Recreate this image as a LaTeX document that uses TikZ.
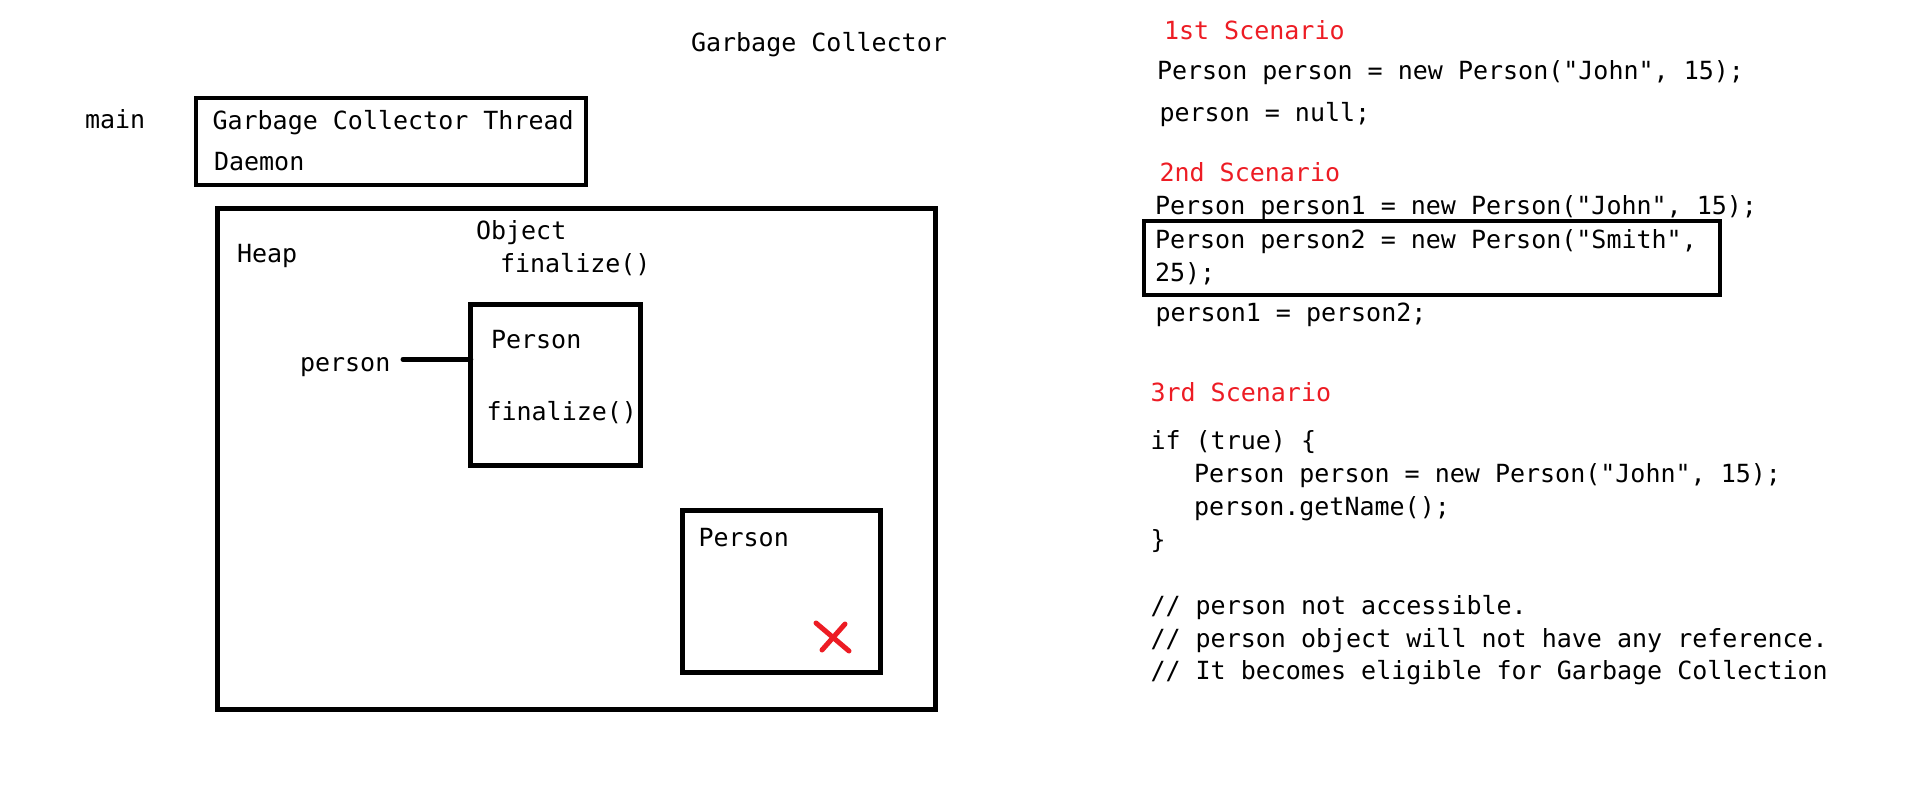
\documentclass[tikz,border=0pt]{standalone}
\usepackage{fontspec}
\setmonofont{DejaVu Sans Mono}
\definecolor{gcred}{RGB}{237,28,36}
\begin{document}
\begin{tikzpicture}[x=1pt,y=-1pt,
  txt/.style={anchor=base west,inner sep=0pt,outer sep=0pt,font=\ttfamily\fontsize{25}{30}\selectfont},
  redtxt/.style={txt,text=gcred},
  box/.style={draw=black,inner sep=0pt,outer sep=0pt},
  xmark/.style={draw=gcred,line width=5pt,line cap=round}]
\useasboundingbox[fill=white] (0,0) rectangle (1914,796);
% left part
\node[txt] (title) at (691,51) {Garbage Collector};
\node[txt] (main) at (85,128) {main};
\node[box,line width=4pt,minimum width=390.3pt,minimum height=86.5pt] (gct) at (390.65,141.25) {};
\node[txt] (gctt) at (212.5,129) {Garbage Collector Thread};
\node[txt] (daemon) at (214,170.5) {Daemon};
\node[box,line width=5pt,minimum width=718pt,minimum height=500.7pt] (heap) at (576.5,458.85) {};
\node[txt] (heapt) at (237,262.5) {Heap};
\node[txt] (obj) at (476,239) {Object};
\node[txt] (objfin) at (500,272.5) {finalize()};
\node[box,line width=5pt,minimum width=169.4pt,minimum height=161.6pt] (p1) at (555.5,385) {};
\node[txt] (p1t) at (491,348) {Person};
\node[txt] (p1f) at (486.5,420.5) {finalize()};
\node[txt] (pref) at (300,371) {person};
\coordinate (pl) at (403,359.3);
\draw[line width=5pt,line cap=round] (pl) -- (pl -| p1.west);
\node[box,line width=5pt,minimum width=197.8pt,minimum height=162pt] (p2) at (781.4,591) {};
\node[txt] (p2t) at (698.5,546.5) {Person};
\draw[xmark] (816,623) -- (849,651);
\draw[xmark] (845,624) -- (822,650);
% right part
\node[redtxt] (s1) at (1164,39.5) {1st Scenario};
\node[txt] (s1a) at (1157,79.5) {Person person = new Person("John", 15);};
\node[txt] (s1b) at (1159.5,121.5) {person = null;};
\node[redtxt] (s2) at (1159.5,181) {2nd Scenario};
\node[txt] (s2a) at (1155,214.5) {Person person1 = new Person("John", 15);};
\node[box,line width=4pt,minimum width=575.8pt,minimum height=73.4pt] (s2box) at (1431.6,258) {};
\node[txt] (s2b) at (1155,248.5) {Person person2 = new Person("Smith",};
\node[txt] (s2c) at (1155,281) {25);};
\node[txt] (s2d) at (1155.5,321.5) {person1 = person2;};
\node[redtxt] (s3) at (1150.5,401) {3rd Scenario};
\node[txt] (s3a) at (1150.5,449.5) {if (true) \{};
\node[txt] (s3b) at (1194,482) {Person person = new Person("John", 15);};
\node[txt] (s3c) at (1194,515) {person.getName();};
\node[txt] (s3d) at (1150.5,548) {\}};
\node[txt] (c1) at (1150.5,614.5) {// person not accessible.};
\node[txt] (c2) at (1150.5,647) {// person object will not have any reference.};
\node[txt] (c3) at (1150.5,679.5) {// It becomes eligible for Garbage Collection};
\end{tikzpicture}
\end{document}
